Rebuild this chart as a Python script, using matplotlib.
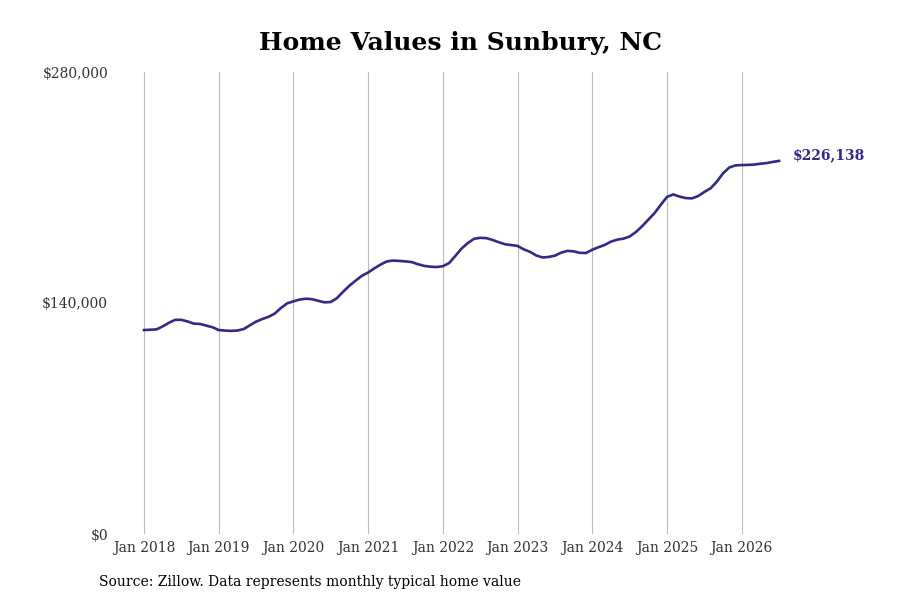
import matplotlib.pyplot as plt

# monthly typical home value, Jan 2018 .. Jul 2026 (thousands of $)
values_k = [
    123.6, 123.8, 124.0, 125.8, 128.0, 129.8, 129.8, 128.8, 127.5, 127.3, 126.3, 125.3,
    123.6, 123.3, 123.1, 123.3, 124.2, 126.5, 128.7, 130.3, 131.6, 133.6, 137.0, 139.8,
    141.0, 142.1, 142.6, 142.3, 141.3, 140.4, 140.6, 143.0, 146.9, 150.5, 153.6, 156.5,
    158.5, 161.0, 163.3, 165.2, 165.7, 165.5, 165.2, 164.8, 163.5, 162.5, 162.0, 161.8,
    162.3, 164.2, 168.5, 173.0, 176.3, 178.9, 179.5, 179.3, 178.2, 176.8, 175.6, 175.1,
    174.6, 172.5, 171.0, 168.8, 167.6, 167.9, 168.7, 170.5, 171.6, 171.3, 170.4, 170.3,
    172.3, 173.8, 175.2, 177.2, 178.4, 179.0, 180.3, 183.0, 186.5, 190.5, 194.5, 199.5,
    204.3, 205.8, 204.5, 203.6, 203.4, 204.8, 207.3, 209.5, 213.5, 218.6, 222.1, 223.4,
    223.6, 223.7, 223.9, 224.4, 224.8, 225.5, 226.138,
]
values = [v * 1000 for v in values_k]
months = list(range(len(values)))

tick_labels = ['Jan 2018', 'Jan 2019', 'Jan 2020', 'Jan 2021', 'Jan 2022',
               'Jan 2023', 'Jan 2024', 'Jan 2025', 'Jan 2026']
tick_pos = [12 * i for i in range(len(tick_labels))]
y_ticks = [0, 140000, 280000]
y_labels = ['$0', '$140,000', '$280,000']

line_color = '#2f2b86'
plt.rcParams['font.family'] = 'DejaVu Serif'

fig = plt.figure(figsize=(9, 6), dpi=100)
ax = fig.add_axes([115 / 900, 66 / 600, 745 / 900, 462 / 600])

ax.plot(months, values, color=line_color, linewidth=1.9)
ax.annotate('$226,138', xy=(months[-1], values[-1]), xytext=(10, 4),
            textcoords='offset points', ha='left', va='center',
            fontsize=10, fontweight='bold', color=line_color)

ax.set_xlim(-4.66, 115)
ax.set_ylim(0, 280000)
ax.set_xticks(tick_pos)
ax.set_xticklabels(tick_labels)
ax.set_yticks(y_ticks)
ax.set_yticklabels(y_labels)
ax.tick_params(axis='both', length=0, labelsize=10, labelcolor='#333333')
ax.tick_params(axis='y', pad=5)
ax.tick_params(axis='x', pad=5)
ax.grid(True, axis='x', color='#bbbbbb', linewidth=0.8)
for s in ax.spines.values():
    s.set_visible(False)

fig.text(0.512, 557 / 600, 'Home Values in Sunbury, NC', ha='center', va='center',
         fontsize=18, fontweight='bold')
fig.text(99 / 900, 18 / 600, 'Source: Zillow. Data represents monthly typical home value',
         ha='left', va='center', fontsize=10)

fig.savefig('out.png', dpi=100)
